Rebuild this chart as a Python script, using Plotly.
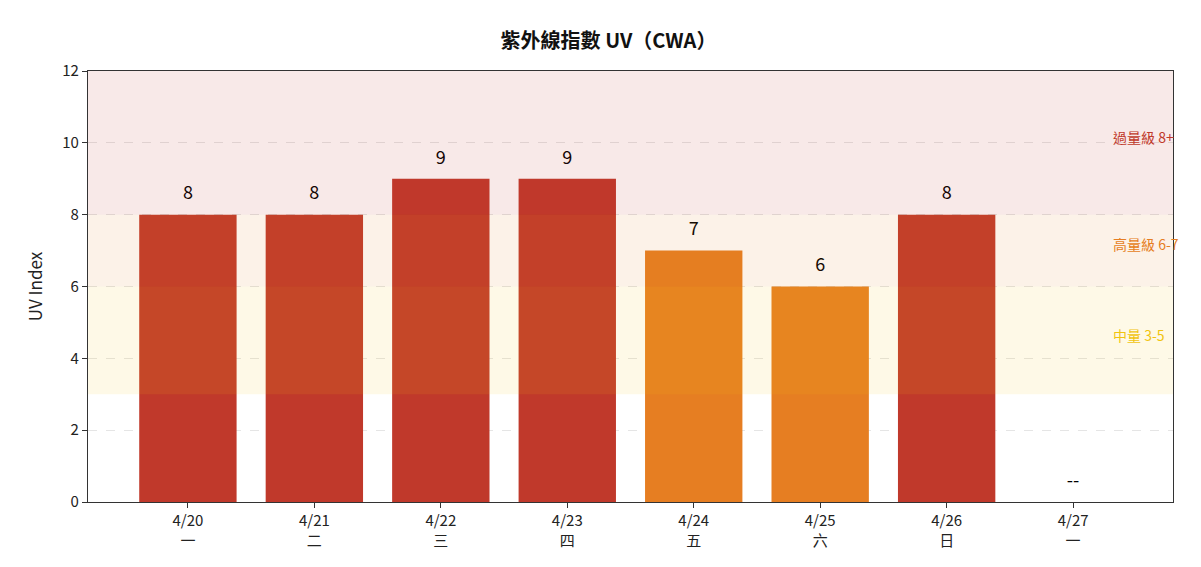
import plotly.graph_objects as go

dates = ["4/20", "4/21", "4/22", "4/23", "4/24", "4/25", "4/26", "4/27"]
weekdays = ["一", "二", "三", "四", "五", "六", "日", "一"]
uv = [8, 8, 9, 9, 7, 6, 8, None]
colors = ["#c0392b", "#c0392b", "#c0392b", "#c0392b", "#e67e22", "#e67e22", "#c0392b", "#c0392b"]
labels = ["8", "8", "9", "9", "7", "6", "8", "--"]

cats = [f"{d}<br>{w}" for d, w in zip(dates, weekdays)]
idx = list(range(len(cats)))
font = "Noto Sans CJK TC"

fig = go.Figure()
fig.add_bar(x=idx, y=[v if v is not None else 0 for v in uv], marker_color=colors,
            marker_line_width=0, width=0.77, hoverinfo="skip")
fig.add_scatter(x=idx, y=[(v if v is not None else 0) + 0.55 for v in uv], mode="text",
                text=labels, textfont=dict(size=18, color="#000", family=font), hoverinfo="skip")

bands = [(3, 6, "rgba(241,196,15,0.10)"), (6, 8, "rgba(230,126,34,0.10)"), (8, 12, "rgba(192,57,43,0.11)")]
for y0, y1, c in bands:
    fig.add_shape(type="rect", xref="paper", x0=0, x1=1, y0=y0, y1=y1, fillcolor=c,
                  line_width=0, layer="above")

for txt, y, c in [("過量級 8+", 10.17, "#c0392b"), ("高量級 6-7", 7.19, "#e67e22"), ("中量 3-5", 4.65, "#f1c40f")]:
    fig.add_annotation(xref="paper", x=0.943, xanchor="left", y=y, text=txt, showarrow=False,
                       font=dict(size=14, color=c, family=font))

fig.update_layout(
    width=1201, height=567, margin=dict(l=80, r=36, t=63, b=73, autoexpand=False),
    paper_bgcolor="white", plot_bgcolor="white", showlegend=False,
    font=dict(family=font, size=15, color="#222"),
    title=dict(text="<b>紫外線指數 UV（CWA）</b>", x=0.5, xanchor="center", y=0.955,
               font=dict(size=20, color="#111")),
)
fig.update_xaxes(range=[-0.79, 7.79], tickmode="array", tickvals=idx, ticktext=cats,
                 showline=True, linecolor="#333", linewidth=1.3, mirror=True, ticks="outside",
                 ticklen=5, tickcolor="#333", tickfont=dict(size=15), automargin=False)
fig.update_yaxes(range=[0, 12], dtick=2, showline=True, linecolor="#333", linewidth=1.3, mirror=True,
                 ticks="outside", ticklen=5, tickcolor="#333", showgrid=True,
                 gridcolor="rgba(180,180,180,0.35)", griddash="dash", zeroline=False,
                 title=dict(text="UV Index", font=dict(size=17)), tickfont=dict(size=15),
                 automargin=False)
fig.write_html("out.html")
